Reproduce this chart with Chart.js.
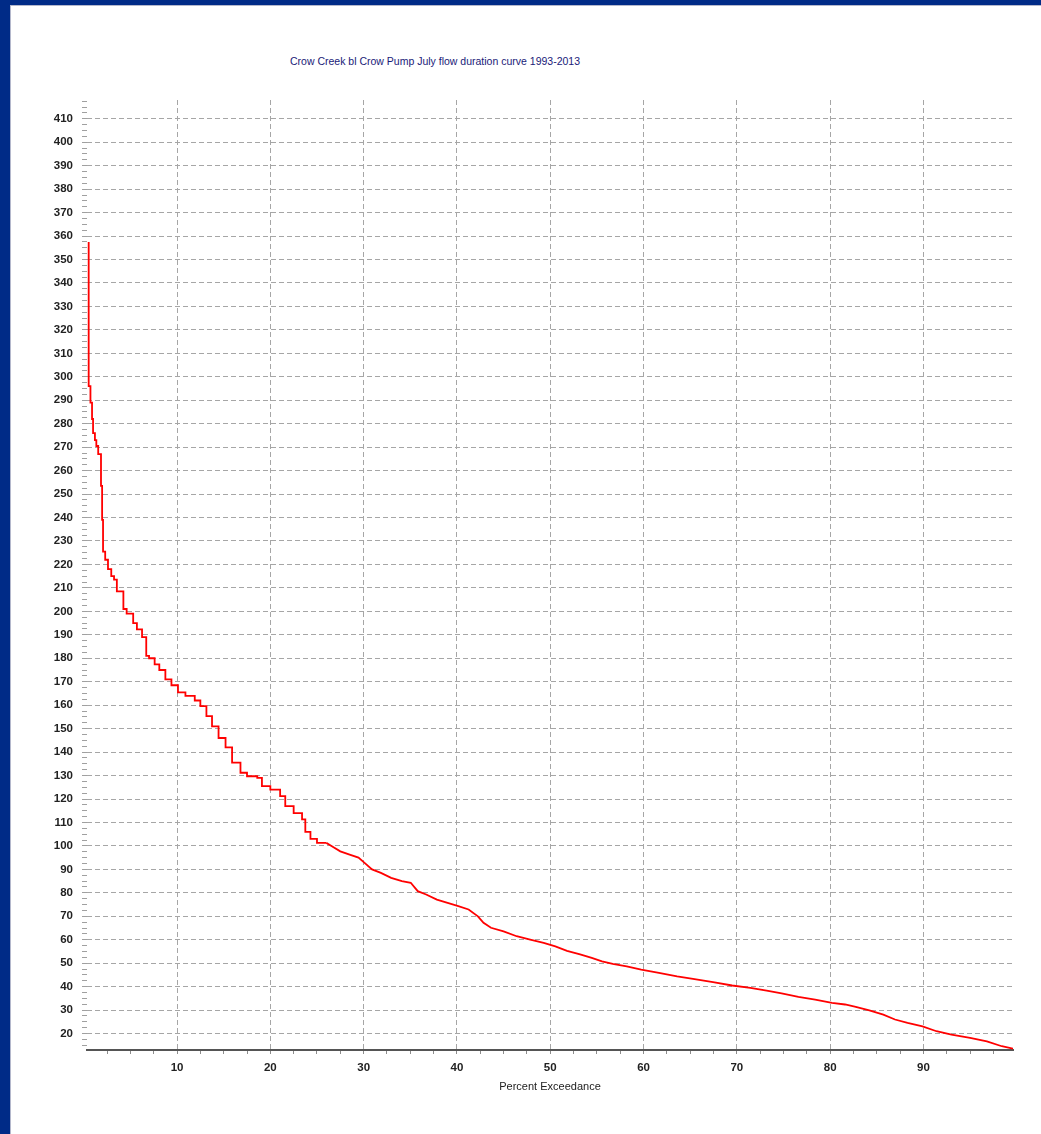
<!DOCTYPE html>
<html>
<head>
<meta charset="utf-8">
<title>Crow Creek bl Crow Pump July flow duration curve</title>
<script src="https://cdn.jsdelivr.net/npm/chart.js@4.4.1/dist/chart.umd.min.js"></script>
<style>
  html, body { margin: 0; padding: 0; }
  body { width: 1041px; height: 1134px; background: #002b87; position: relative; overflow: hidden; }
  #panel { position: absolute; left: 10px; top: 5px; right: 0; bottom: 0; background: #fff; border-left: 1px solid #b4b8cc; border-top: 1px solid #b4b8cc; }
  #title { position: absolute; left: 0; width: 870px; top: 55px; text-align: center; font: 10.5px "Liberation Sans", Arial, sans-serif; color: #1a1a78; }
  #wrap { position: absolute; left: 11px; top: 6px; width: 1030px; height: 1128px; }
</style>
</head>
<body>
<div id="panel"></div>
<div id="title">Crow Creek bl Crow Pump July flow duration curve 1993-2013</div>
<div id="wrap"><canvas id="chart" width="1030" height="1128"></canvas></div>
<script>
// high flows: percent exceedance at the end of each step, and the step's flow (cfs)
const highPercent = [
    0.53, 0.72, 0.89, 1.0, 1.2, 1.35, 1.55, 1.85, 1.97, 2.07,
    2.3, 2.6, 2.95, 3.25, 3.55, 4.25, 4.6, 5.3, 5.7, 6.25,
    6.7, 7.0, 7.6, 8.1, 8.75, 9.4, 10.1, 10.9, 11.9, 12.5,
    13.15, 13.75, 14.45, 15.2, 15.9, 16.8, 17.5, 18.6, 19.1, 20.0,
    21.05, 21.6, 22.5, 23.4, 23.75, 24.3, 25.0, 26.0
];
const highFlow = [
    357.5, 296, 289, 282, 276, 273, 270.5, 267, 253.5, 239,
    225.5, 222, 218, 215, 213.5, 208.5, 201, 199, 195, 192.3,
    189, 181, 180, 177.4, 175, 171, 168.5, 165.5, 164, 162,
    159.6, 155.3, 151, 146, 142, 135.5, 131.2, 129.7, 129, 125.5,
    124, 121.2, 117, 114, 111.3, 106, 103, 101.3
];

// low flows: points along the curve
const lowPercent = [
    26.0, 26.55, 27.5, 28.5, 29.45, 30.1, 30.9, 31.85, 32.95, 34.1,
    35.05, 35.8, 36.7, 37.85, 39.0, 40.15, 41.25, 42.25, 42.85, 43.65,
    45.0, 46.4, 47.85, 49.3, 50.55, 51.8, 53.2, 54.45, 55.55, 56.7,
    58.2, 59.75, 61.65, 63.6, 65.3, 67.45, 69.5, 71.45, 73.2, 74.8,
    76.6, 78.4, 80.2, 81.6, 82.75, 84.2, 85.7, 86.95, 88.3, 89.9,
    91.4, 93.0, 95.0, 96.8, 98.4, 99.6
];
const lowFlow = [
    101.3, 100, 97.7, 96.3, 95, 92.8, 90, 88.5, 86.4, 85,
    84.3, 80.7, 79.3, 77.1, 75.7, 74.3, 72.9, 70, 67.2, 65.1,
    63.6, 61.5, 60.1, 58.7, 57.2, 55.3, 53.8, 52.3, 50.8, 49.7,
    48.7, 47.3, 45.9, 44.4, 43.3, 41.9, 40.5, 39.5, 38.3, 37.1,
    35.6, 34.5, 33.1, 32.4, 31.4, 29.9, 28.1, 26, 24.6, 23.1,
    21, 19.6, 18.2, 16.7, 14.6, 13.6
];

const xTickLabels = [10, 20, 30, 40, 50, 60, 70, 80, 90];
const yTickLabels = [20, 30, 40, 50, 60, 70, 80, 90, 100, 110, 120, 130, 140, 150,
    160, 170, 180, 190, 200, 210, 220, 230, 240, 250, 260, 270, 280, 290, 300,
    310, 320, 330, 340, 350, 360, 370, 380, 390, 400, 410];

// minor tick marks every 2.5 units
const minorTicks = (from, to) => {
    const t = [];
    for (let v = from; v <= to + 1e-9; v += 2.5) t.push({value: v});
    return t;
};

const font = "'Liberation Sans', Arial, sans-serif";
const tickFont = {family: font, size: 11.5, weight: 'bold'};
const gridColor = labels => ctx => (ctx.tick && labels.includes(ctx.tick.value)) ? '#a6a6a6' : 'rgba(0,0,0,0)';
const curve = {borderColor: '#ff0000', borderWidth: 1.8, pointRadius: 0, fill: false};

new Chart(document.getElementById('chart'), {
    type: 'line',
    data: {
        datasets: [
            {...curve, stepped: 'after', data: highPercent.map((x, i) => ({x, y: highFlow[i]}))},
            {...curve, data: lowPercent.map((x, i) => ({x, y: lowFlow[i]}))}
        ]
    },
    options: {
        responsive: false,
        animation: false,
        layout: {padding: {left: 0, right: 28, top: 94, bottom: 34}},
        plugins: {legend: {display: false}, tooltip: {enabled: false}},
        scales: {
            x: {
                type: 'linear',
                min: 0.35,
                max: 99.6,
                afterBuildTicks: s => { s.ticks = minorTicks(2.5, 97.5); },
                afterFit: s => { s.height = 50; },
                ticks: {
                    autoSkip: false,
                    maxRotation: 0,
                    padding: 7,
                    color: '#222',
                    font: tickFont,
                    callback: v => xTickLabels.includes(v) ? String(v) : ''
                },
                grid: {color: gridColor(xTickLabels), lineWidth: 1, tickLength: 4, tickColor: '#8c8c8c'},
                border: {display: true, color: '#555', width: 2, dash: [5, 3]},
                title: {
                    display: true,
                    text: 'Percent Exceedance',
                    color: '#222',
                    font: {family: font, size: 11},
                    padding: {top: 0, bottom: 6}
                }
            },
            y: {
                type: 'linear',
                min: 13,
                max: 418,
                afterBuildTicks: s => { s.ticks = minorTicks(15, 417.5); },
                afterFit: s => { s.width = 76; },
                ticks: {
                    autoSkip: false,
                    padding: 9,
                    color: '#222',
                    font: tickFont,
                    callback: v => yTickLabels.includes(v) ? String(v) : ''
                },
                grid: {color: gridColor(yTickLabels), lineWidth: 1, tickLength: 5, tickColor: '#a0a0a0'},
                border: {display: false, dash: [5, 3]}
            }
        }
    }
});
</script>
</body>
</html>
